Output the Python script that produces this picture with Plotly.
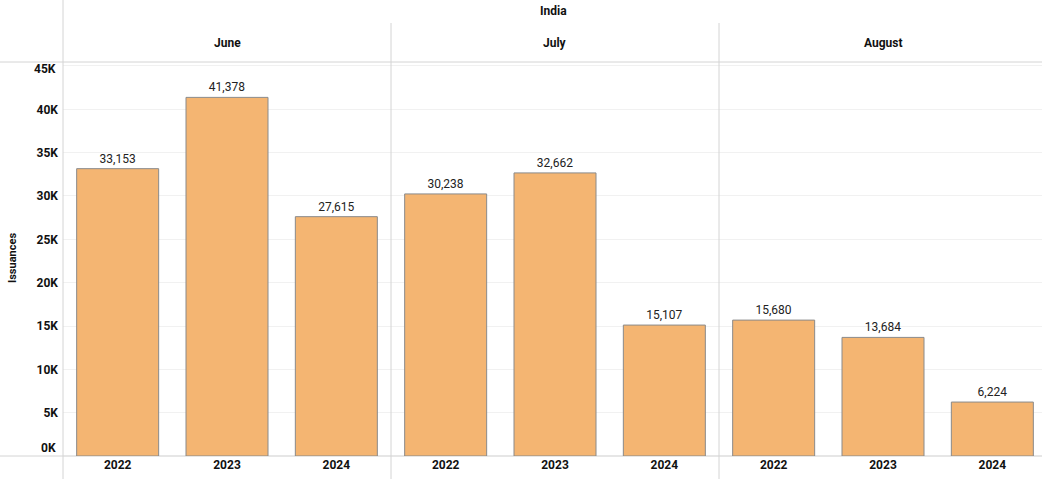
import plotly.graph_objects as go
from plotly.subplots import make_subplots

months = ["June", "July", "August"]
years = ["2022", "2023", "2024"]
june = [33153, 41378, 27615]
july = [30238, 32662, 15107]
august = [15680, 13684, 6224]
series = [june, july, august]
y_ticks = [0, 5000, 10000, 15000, 20000, 25000, 30000, 35000, 40000, 45000]
y_ticktext = ["0K", "5K", "10K", "15K", "20K", "25K", "30K", "35K", "40K", "45K"]

W, H = 1042, 479
L, T, B = 63, 62, 23
PW = W - L
PH = H - T - B

def px2x(px):
    return (px - L) / PW

def py2y(py):
    return (H - B - py) / PH

FONT = "Roboto"
BAR = "#F4B572"
EDGE = "#8a8a8a"
LINE = "#d4d4d4"
TICKFONT = dict(family=FONT, size=12, color="#111", weight="bold")

fig = make_subplots(rows=1, cols=3, shared_yaxes=True, horizontal_spacing=0)
for i, vals in enumerate(series):
    fig.add_trace(go.Bar(
        x=years, y=vals, width=0.75,
        marker=dict(color=BAR, line=dict(color=EDGE, width=1)),
        texttemplate="%{y:,.0f}", textposition="outside",
        textfont=dict(family=FONT, size=12, color="#222"),
        cliponaxis=False, showlegend=False, hoverinfo="skip"
    ), row=1, col=i + 1)

d1 = 328 / PW
d2 = 656 / PW
doms = [[0, d1], [d1, d2], [d2, 1]]
for i in range(3):
    key = "xaxis" if i == 0 else f"xaxis{i+1}"
    rng = [-0.5, 2.5] if i < 2 else [-0.5, -0.5 + (W - 719) / (328 / 3)]
    fig.layout[key].update(
        domain=doms[i], range=rng, type="category",
        showgrid=False, zeroline=False, showline=False, ticks="",
        tickfont=TICKFONT,
    )

# middle ticks drawn by the axis; end ticks shifted inward as annotations (Tableau style)
mid_vals = y_ticks[1:-1]
mid_text = y_ticktext[1:-1]
fig.update_yaxes(
    range=[0, 45460], tickvals=y_ticks,
    ticktext=[""] + mid_text + [""],
    showgrid=True, gridcolor="#f1f1f1", gridwidth=1,
    zeroline=True, zerolinecolor="#e6e6e6", showline=False, ticks="",
    ticklabelstandoff=4,
    tickfont=TICKFONT,
)

shapes = []
shapes.append(dict(type="line", xref="paper", yref="paper", x0=0, x1=0,
                   y0=py2y(0), y1=py2y(H), line=dict(color=LINE, width=1)))
shapes.append(dict(type="line", xref="paper", yref="paper", x0=px2x(0), x1=1,
                   y0=1, y1=1, line=dict(color=LINE, width=1)))
shapes.append(dict(type="line", xref="paper", yref="paper", x0=px2x(0), x1=0,
                   y0=0, y1=0, line=dict(color=LINE, width=1)))
for d in [d1, d2]:
    shapes.append(dict(type="line", xref="paper", yref="paper", x0=d, x1=d,
                       y0=py2y(H), y1=py2y(23), line=dict(color=LINE, width=1)))

annotations = []
annotations.append(dict(text=y_ticktext[0], x=px2x(58), y=y_ticks[0], xref="paper", yref="y",
                        yshift=8, showarrow=False, font=TICKFONT,
                        xanchor="right", yanchor="middle"))
annotations.append(dict(text=y_ticktext[-1], x=px2x(58), y=y_ticks[-1], xref="paper", yref="y",
                        yshift=-3, showarrow=False, font=TICKFONT,
                        xanchor="right", yanchor="middle"))
annotations.append(dict(text="<b>India</b>", x=px2x(553), y=py2y(11), xref="paper", yref="paper",
                        showarrow=False, font=dict(family=FONT, size=12, color="#111"),
                        xanchor="center", yanchor="middle"))
for m, px in zip(months, [227, 555, 883]):
    annotations.append(dict(text=f"<b>{m}</b>", x=px2x(px), y=py2y(43), xref="paper", yref="paper",
                            showarrow=False, font=dict(family=FONT, size=12, color="#111"),
                            xanchor="center", yanchor="middle"))
annotations.append(dict(text="<b>Issuances</b>", x=px2x(12), y=py2y(258), xref="paper", yref="paper",
                        showarrow=False, textangle=-90, font=dict(family=FONT, size=11, color="#111"),
                        xanchor="center", yanchor="middle"))

fig.update_layout(
    width=W, height=H, margin=dict(l=L, r=0, t=T, b=B),
    plot_bgcolor="white", paper_bgcolor="white",
    shapes=shapes, annotations=annotations, bargap=0.25,
)

fig.write_html("out.html", config={"displayModeBar": False},
               post_script="document.body.style.margin='0';document.body.style.overflow='hidden';")
